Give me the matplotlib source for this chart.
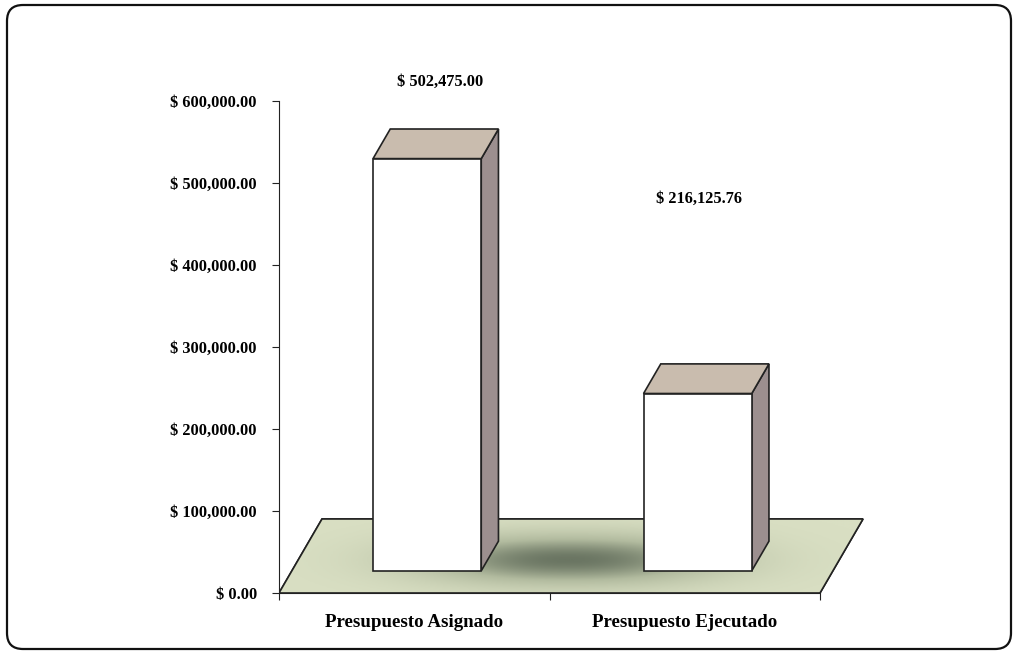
import numpy as np
import matplotlib
matplotlib.use("Agg")
import matplotlib.pyplot as plt
from matplotlib.patches import Polygon, FancyBboxPatch
from matplotlib.transforms import IdentityTransform
from matplotlib.colors import LinearSegmentedColormap

# data
categories = ["Presupuesto Asignado", "Presupuesto Ejecutado"]
values = [502475.00, 216125.76]
value_labels = ["$ 502,475.00", "$ 216,125.76"]
y_ticks = [0, 100000, 200000, 300000, 400000, 500000, 600000]
y_tick_labels = ["$ 0.00", "$ 100,000.00", "$ 200,000.00", "$ 300,000.00",
                 "$ 400,000.00", "$ 500,000.00", "$ 600,000.00"]

plt.rcParams['font.family'] = ['Liberation Serif', 'DejaVu Serif']
plt.rcParams['font.weight'] = 'bold'

fig = plt.figure(figsize=(10.13, 6.51), dpi=100)
ax = fig.add_axes([0.27542, 0.08909, 0.58747, 0.80645])
ax.set_xlim(0, 2.2)
ax.set_ylim(0, 640000)

# 3d-ish depth of the floor (data units)
depth_x = 0.159
depth_y = 90240
bar_w = 0.4
d_front, d_back = 0.3, 0.7

# floor
floor_pts = [(0, 0), (2, 0), (2 + depth_x, depth_y), (depth_x, depth_y)]
floor = Polygon(floor_pts, closed=True, facecolor='#d9dfc3', edgecolor='#222222', lw=1.2, zorder=1)
ax.add_patch(floor)

# shadow on the floor
gx = np.linspace(0, 2 + depth_x, 400)
gy = np.linspace(0, depth_y, 100)
GX, GY = np.meshgrid(gx, gy)
shade = np.exp(-(np.abs(GX - 1.07) / 0.55) ** 2.2 - ((GY - 40000) / 30000) ** 2)
cmap = LinearSegmentedColormap.from_list('fl', ['#d9dfc3', '#b2bb9f', '#6b7663'])
im = ax.imshow(shade, extent=[0, 2 + depth_x, 0, depth_y], origin='lower',
               aspect='auto', cmap=cmap, vmin=0, vmax=1, zorder=1.5)
im.set_clip_path(floor)
ax.add_patch(Polygon(floor_pts, closed=True, facecolor='none', edgecolor='#222222', lw=1.2, zorder=1.6))

# bars
for i, v in enumerate(values):
    cx = i + 0.5
    fx = cx - bar_w / 2 + d_front * depth_x
    fy = d_front * depth_y
    dx = (d_back - d_front) * depth_x
    dy = (d_back - d_front) * depth_y
    side = [(fx + bar_w, fy), (fx + bar_w + dx, fy + dy),
            (fx + bar_w + dx, fy + dy + v), (fx + bar_w, fy + v)]
    top = [(fx, fy + v), (fx + bar_w, fy + v),
           (fx + bar_w + dx, fy + dy + v), (fx + dx, fy + dy + v)]
    ax.add_patch(Polygon(side, closed=True, facecolor='#9c8f8f', edgecolor='#222222', lw=1.2, zorder=3))
    ax.add_patch(Polygon(top, closed=True, facecolor='#c9bcae', edgecolor='#222222', lw=1.2, zorder=3))
    ax.add_patch(plt.Rectangle((fx, fy), bar_w, v, facecolor='white', edgecolor='#222222', lw=1.2, zorder=4))

# value labels (placed like in the original)
ax.text(0.595, 623000, value_labels[0], ha='center', va='center', fontsize=11.8, fontweight='bold')
ax.text(1.553, 480000, value_labels[1], ha='center', va='center', fontsize=11.8, fontweight='bold')

# axes
for s in ['top', 'right']:
    ax.spines[s].set_visible(False)
ax.spines['left'].set_bounds(0, 600000)
ax.spines['bottom'].set_bounds(0, 2)
ax.spines['left'].set_color('#222222')
ax.spines['bottom'].set_color('#222222')
ax.set_yticks(y_ticks)
ax.set_yticklabels(y_tick_labels, fontsize=11.8, fontweight='bold')
ax.tick_params(axis='y', length=5, pad=11, color='#222222')
ax.set_xticks([0, 1, 2])
ax.set_xticklabels(['', '', ''])
ax.tick_params(axis='x', which='major', length=5, color='#222222')
ax.set_xticks([0.5, 1.5], minor=True)
ax.set_xticklabels(categories, minor=True, fontsize=13.6, fontweight='bold')
ax.tick_params(axis='x', which='minor', length=0, pad=15)
ax.patch.set_alpha(0)

# rounded frame
frame = FancyBboxPatch((7, 2), 1004, 644, boxstyle="round,pad=0,rounding_size=16",
                       transform=IdentityTransform(), facecolor='none', edgecolor='#111111', lw=1.6)
fig.add_artist(frame)

fig.savefig('out.png', dpi=100)
